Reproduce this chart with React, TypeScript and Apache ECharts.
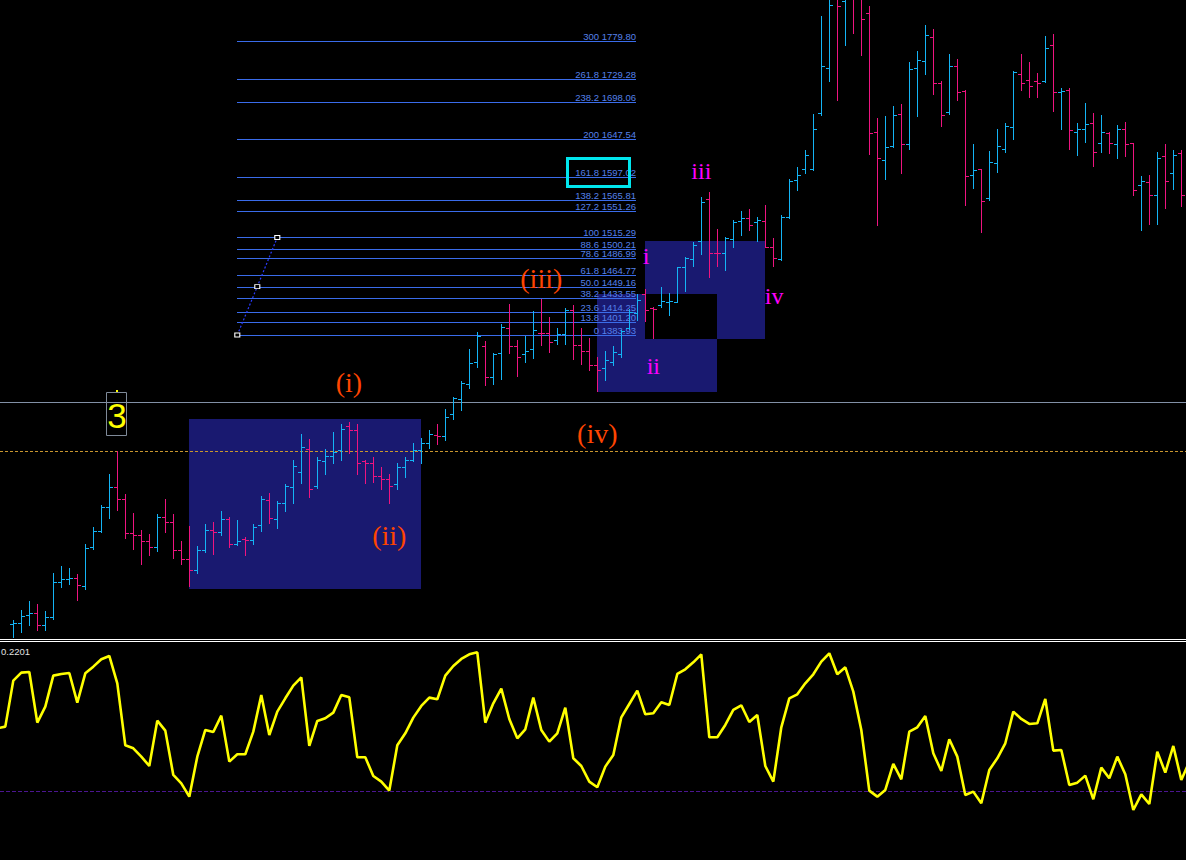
import React, { useEffect, useRef } from "react";
import * as echarts from "echarts";

// ---------- price bars (bar index 0..146) ----------
const OPEN = [
  995, 996, 1007, 1009, 993, 1004, 1051, 1055, 1056, 1046,
  1099, 1120, 1152, 1179, 1163, 1117, 1114, 1106, 1098, 1139,
  1132, 1094, 1082, 1067, 1095, 1121, 1119, 1136, 1103, 1109,
  1108, 1128, 1162, 1136, 1157, 1179, 1200, 1231, 1180, 1214,
  1221, 1229, 1261, 1256, 1214, 1212, 1194, 1190, 1183, 1206,
  1215, 1229, 1239, 1249, 1248, 1278, 1298, 1318, 1348, 1369,
  1328, 1360, 1393, 1369, 1358, 1365, 1387, 1386, 1377, 1385,
  1418, 1370, 1362, 1344, 1339, 1347, 1358, 1393, 1413, 1439,
  1420, 1424, 1428, 1429, 1475, 1486, 1511, 1567, 1495, 1494,
  1513, 1537, 1542, 1536, 1538, 1502, 1486, 1543, 1593, 1608,
  1607, 1683, 1743, 1842, 1834, 1849, 1839, 1817, 1657, 1619,
  1638, 1681, 1641, 1743, 1753, 1786, 1723, 1684, 1746, 1713,
  1599, 1607, 1569, 1615, 1634, 1664, 1735, 1727, 1726, 1726,
  1774, 1711, 1714, 1658, 1662, 1669, 1642, 1656, 1641, 1661,
  1642, 1586, 1590, 1573, 1625, 1602, 1629,
];
const HIGH = [
  1000, 1014, 1026, 1022, 1012, 1064, 1073, 1070, 1062, 1102,
  1125, 1155, 1197, 1228, 1170, 1144, 1121, 1116, 1143, 1163,
  1143, 1106, 1127, 1100, 1129, 1132, 1147, 1139, 1135, 1112,
  1129, 1167, 1171, 1160, 1183, 1216, 1251, 1244, 1220, 1230,
  1253, 1264, 1267, 1264, 1216, 1220, 1206, 1197, 1211, 1220,
  1238, 1245, 1256, 1264, 1284, 1300, 1322, 1365, 1388, 1376,
  1360, 1399, 1426, 1377, 1383, 1416, 1432, 1408, 1393, 1420,
  1424, 1393, 1380, 1354, 1362, 1369, 1390, 1419, 1439, 1446,
  1421, 1449, 1441, 1476, 1489, 1509, 1570, 1577, 1527, 1516,
  1539, 1551, 1554, 1543, 1559, 1514, 1545, 1594, 1610, 1633,
  1682, 1814, 1849, 1855, 1862, 1862, 1849, 1827, 1676, 1679,
  1692, 1695, 1752, 1766, 1801, 1796, 1726, 1762, 1756, 1714,
  1641, 1608, 1632, 1661, 1670, 1740, 1762, 1752, 1737, 1787,
  1789, 1717, 1717, 1670, 1697, 1683, 1680, 1658, 1667, 1671,
  1643, 1598, 1600, 1630, 1641, 1633, 1633,
];
const LOW = [
  966, 984, 993, 987, 987, 1001, 1044, 1049, 1027, 1042,
  1096, 1119, 1138, 1148, 1110, 1096, 1075, 1087, 1093, 1119,
  1084, 1076, 1046, 1063, 1092, 1089, 1114, 1099, 1101, 1087,
  1103, 1120, 1131, 1124, 1147, 1158, 1185, 1166, 1178, 1197,
  1211, 1216, 1225, 1197, 1185, 1186, 1176, 1158, 1176, 1192,
  1214, 1211, 1232, 1237, 1242, 1271, 1283, 1313, 1341, 1316,
  1318, 1325, 1360, 1329, 1348, 1353, 1371, 1361, 1372, 1372,
  1352, 1345, 1337, 1309, 1323, 1344, 1354, 1392, 1404, 1403,
  1380, 1421, 1411, 1428, 1443, 1477, 1493, 1462, 1477, 1472,
  1503, 1519, 1526, 1511, 1502, 1477, 1485, 1541, 1579, 1602,
  1606, 1680, 1726, 1701, 1775, 1791, 1761, 1628, 1532, 1594,
  1637, 1602, 1635, 1679, 1735, 1709, 1666, 1682, 1701, 1559,
  1582, 1522, 1566, 1604, 1631, 1648, 1714, 1704, 1704, 1725,
  1686, 1662, 1634, 1627, 1644, 1612, 1631, 1629, 1623, 1625,
  1572, 1526, 1533, 1533, 1555, 1581, 1558,
];
const CLOSE = [
  996, 1006, 1010, 993, 1004, 1051, 1055, 1056, 1047, 1097,
  1120, 1152, 1179, 1163, 1117, 1114, 1106, 1099, 1139, 1132,
  1094, 1082, 1067, 1095, 1121, 1118, 1136, 1103, 1107, 1108,
  1125, 1163, 1138, 1158, 1180, 1208, 1233, 1177, 1215, 1221,
  1227, 1257, 1256, 1212, 1212, 1194, 1190, 1181, 1206, 1216,
  1229, 1238, 1251, 1248, 1274, 1299, 1319, 1346, 1382, 1328,
  1359, 1395, 1369, 1354, 1363, 1391, 1386, 1375, 1385, 1418,
  1370, 1362, 1344, 1337, 1350, 1361, 1389, 1415, 1431, 1417,
  1419, 1430, 1430, 1475, 1487, 1505, 1563, 1495, 1494, 1514,
  1536, 1541, 1532, 1539, 1502, 1487, 1543, 1592, 1600, 1626,
  1662, 1746, 1828, 1827, 1846, 1842, 1810, 1656, 1623, 1637,
  1680, 1641, 1742, 1754, 1788, 1723, 1680, 1746, 1711, 1598,
  1606, 1564, 1617, 1638, 1665, 1738, 1724, 1720, 1723, 1771,
  1711, 1712, 1660, 1661, 1668, 1630, 1657, 1642, 1662, 1641,
  1579, 1592, 1572, 1623, 1592, 1626, 1572,
];

// ---------- oscillator (bar index -2..147) ----------
const OSC_FIRST_BAR = -2;
const OSC = [
  0.0945, 0.097,
  0.166, 0.178, 0.179, 0.103, 0.127, 0.1735, 0.176, 0.1775, 0.133, 0.177,
  0.187, 0.198, 0.203, 0.162, 0.069, 0.0645, 0.052, 0.038, 0.106, 0.091,
  0.0245, 0.012, -0.008, 0.052, 0.092, 0.089, 0.1135, 0.0445, 0.0555, 0.0555,
  0.0895, 0.1445, 0.0845, 0.1195, 0.1395, 0.1585, 0.171, 0.068, 0.1055, 0.1095,
  0.118, 0.1445, 0.141, 0.051, 0.051, 0.023, 0.0145, 0.001, 0.069, 0.087,
  0.1105, 0.128, 0.1405, 0.138, 0.1735, 0.188, 0.1985, 0.2055, 0.2085, 0.103,
  0.132, 0.154, 0.1085, 0.0795, 0.093, 0.1405, 0.092, 0.0745, 0.087, 0.1255,
  0.0495, 0.038, 0.0145, 0.006, 0.037, 0.0545, 0.111, 0.131, 0.151, 0.1155,
  0.117, 0.1335, 0.1295, 0.176, 0.183, 0.1935, 0.2055, 0.081, 0.081, 0.0995,
  0.122, 0.129, 0.104, 0.1145, 0.038, 0.0145, 0.096, 0.1395, 0.1455, 0.162,
  0.1755, 0.1945, 0.207, 0.1755, 0.186, 0.1495, 0.092, 0.001, -0.008, 0.002,
  0.041, 0.018, 0.0895, 0.096, 0.113, 0.057, 0.0305, 0.078, 0.052, -0.0055,
  -0.0005, -0.018, 0.032, 0.0495, 0.072, 0.1195, 0.1085, 0.101, 0.102, 0.1385,
  0.061, 0.062, 0.0095, 0.013, 0.0235, -0.012, 0.0355, 0.0195, 0.052, 0.0255,
  -0.028, -0.0045, -0.019, 0.0595, 0.028, 0.068, 0.017, 0.0445,
];
const OSC_LABEL = "0.2201";
const OSC_LEVEL = 0;

// ---------- Fibonacci expansion ----------
const FIB_LEVELS = ["0", "13.8", "23.6", "38.2", "50.0", "61.8", "78.6", "88.6", "100", "127.2", "138.2", "161.8", "200", "238.2", "261.8", "300"];
const FIB_PRICES = [1383.93, 1401.2, 1414.25, 1433.55, 1449.16, 1464.77, 1486.99, 1500.21, 1515.29, 1551.26, 1565.81, 1597.02, 1647.54, 1698.06, 1729.28, 1779.8];
const FIB_FROM_BAR = 28;
const FIB_TO_BAR = 33;
const FIB_END_BAR = 77.85;

// ---------- horizontal levels ----------
const LEVEL_PRICES = [1293.3, 1227.7];

// ---------- wave boxes ----------
const BOX_FROM_BAR = [22, 73, 79];
const BOX_TO_BAR = [51, 88, 94];
const BOX_HIGH = [1270.8, 1439.2, 1510.6];
const BOX_LOW = [1041.8, 1307.2, 1378.6];

// target box around 161.8
const TARGET_FROM_BAR = 69.24;
const TARGET_TO_BAR = 77.03;
const TARGET_HIGH = 1623.0;
const TARGET_LOW = 1585.7;

// ---------- wave labels ----------
const WAVE_LABELS = ["(i)", "(ii)", "(iii)", "(iv)"];
const WAVE_BAR = [41.96, 47.0, 66.0, 73.0];
const WAVE_PRICE = [1319.3, 1113.2, 1460.7, 1251.9];
const SUB_LABELS = ["i", "ii", "iii", "iv"];
const SUB_BAR = [79.1, 80.0, 86.0, 95.1];
const SUB_PRICE = [1490.4, 1342.2, 1604.9, 1436.5];
const DEGREE_LABELS = ["3"];
const DEGREE_BAR = [13];
const DEGREE_PRICE = [1277.5];

const PRICE_MIN = 975.8;
const PRICE_MAX = 1835.17;
const BAR_MIN = -1.6625;
const BAR_MAX = 146.5875;

const UP = "#14b4f5";
const DOWN = "#ee1480";

export default function App() {
  const ref = useRef<HTMLDivElement>(null);
  useEffect(() => {
    document.body.style.margin = "0";
    document.body.style.background = "#000";
    const chart = echarts.init(ref.current!, undefined, { renderer: "svg" });

    const bars = OPEN.map((o, i) => [i, o, HIGH[i], LOW[i], CLOSE[i]]);
    const osc = OSC.map((v, i) => [i + OSC_FIRST_BAR, v]);
    const boxes = BOX_FROM_BAR.map((b, i) => [b, BOX_HIGH[i], BOX_TO_BAR[i], BOX_LOW[i], 0]);
    // overlap of boxes 2 and 3 (rendered black, XOR-like)
    const ox1 = Math.max(BOX_FROM_BAR[1], BOX_FROM_BAR[2]);
    const ox2 = Math.min(BOX_TO_BAR[1], BOX_TO_BAR[2]);
    const oy1 = Math.min(BOX_HIGH[1], BOX_HIGH[2]);
    const oy2 = Math.max(BOX_LOW[1], BOX_LOW[2]);
    boxes.push([ox1, oy1, ox2, oy2, 1]);

    const fib = FIB_PRICES.map((p, i) => [FIB_FROM_BAR, p, FIB_END_BAR, i]);
    const fibMid = (FIB_FROM_BAR + FIB_TO_BAR) / 2;

    const rnd = (v: number) => Math.round(v) + 0.5;
    const solid = (color: string) => ({ fill: color, stroke: "none", lineWidth: 0, opacity: 1 });

    const option: any = {
      animation: false,
      backgroundColor: "#000",
      grid: [
        { left: 0, right: 0, top: 0, height: 638 },
        { left: 0, right: 0, top: 642, height: 218 },
      ],
      xAxis: [
        { gridIndex: 0, type: "value", min: BAR_MIN, max: BAR_MAX, show: false },
        { gridIndex: 1, type: "value", min: BAR_MIN, max: BAR_MAX, show: false },
      ],
      yAxis: [
        { gridIndex: 0, type: "value", min: PRICE_MIN, max: PRICE_MAX, show: false },
        { gridIndex: 1, type: "value", min: -0.10305, max: 0.22395, show: false },
      ],
      series: [
        {
          type: "custom",
          name: "boxes",
          z: 1,
          clip: true,
          silent: true,
          encode: { x: [0, 2], y: [1, 3] },
          data: boxes,
          renderItem: (params: any, api: any) => {
            const a = api.coord([api.value(0), api.value(1)]);
            const b = api.coord([api.value(2), api.value(3)]);
            const x = Math.round(a[0]);
            const y = Math.round(a[1]);
            return {
              type: "rect",
              shape: { x, y, width: Math.round(b[0]) - x, height: Math.round(b[1]) - y },
              style: solid(api.value(4) === 1 ? "#000000" : "#191970"),
            };
          },
        },
        {
          type: "custom",
          name: "levels",
          z: 2,
          silent: true,
          encode: { y: 0 },
          data: LEVEL_PRICES.map((p, i) => [p, i]),
          renderItem: (params: any, api: any) => {
            const cs = params.coordSys;
            const p = api.coord([0, api.value(0)]);
            const y = rnd(p[1]);
            const dashed = api.value(1) === 1;
            return {
              type: "line",
              shape: { x1: cs.x, y1: y, x2: cs.x + cs.width, y2: y },
              style: dashed
                ? { stroke: "#c8962e", lineWidth: 1, lineDash: [3, 2] }
                : { stroke: "#8290a6", lineWidth: 1 },
            };
          },
        },
        {
          type: "custom",
          name: "fib",
          z: 3,
          silent: true,
          clip: true,
          encode: { x: [0, 2], y: 1 },
          data: fib,
          renderItem: (params: any, api: any) => {
            const a = api.coord([api.value(0), api.value(1)]);
            const b = api.coord([api.value(2), api.value(1)]);
            const idx = api.value(3);
            const y = Math.round(a[1]);
            const label = FIB_LEVELS[idx] + " " + FIB_PRICES[idx].toFixed(2);
            return {
              type: "group",
              children: [
                { type: "rect", shape: { x: Math.round(a[0]), y, width: Math.round(b[0]) - Math.round(a[0]), height: 1 }, style: solid("#3a6cea") },
                {
                  type: "text",
                  x: Math.round(b[0]),
                  y: y,
                  style: {
                    text: label,
                    fill: "#5580ea",
                    font: '9.5px "Liberation Sans"',
                    textAlign: "right",
                    textVerticalAlign: "bottom",
                    align: "right",
                    verticalAlign: "bottom",
                  },
                },
              ],
            };
          },
        },
        {
          type: "line",
          name: "fibAnchor",
          z: 4,
          silent: true,
          xAxisIndex: 0,
          yAxisIndex: 0,
          data: [
            [FIB_FROM_BAR, FIB_PRICES[0]],
            [fibMid, FIB_PRICES[4]],
            [FIB_TO_BAR, FIB_PRICES[8]],
          ],
          symbol: "rect",
          symbolSize: [5, 4],
          itemStyle: { color: "#000", borderColor: "#fff", borderWidth: 1 },
          lineStyle: { color: "#2a3cff", width: 1.2, type: [2, 2] },
        },
        {
          type: "custom",
          name: "ohlc",
          z: 5,
          clip: true,
          silent: true,
          encode: { x: 0, y: [1, 2, 3, 4] },
          data: bars,
          renderItem: (params: any, api: any) => {
            const k = api.value(0);
            const o = api.value(1);
            const h = api.value(2);
            const l = api.value(3);
            const c = api.value(4);
            const pH = api.coord([k, h]);
            const pL = api.coord([k, l]);
            const pO = api.coord([k, o]);
            const pC = api.coord([k, c]);
            const x = Math.round(pH[0]);
            const color = c > o ? UP : DOWN;
            const yh = Math.round(pH[1]);
            const yl = Math.round(pL[1]);
            const yo = Math.round(pO[1]);
            const yc = Math.round(pC[1]);
            return {
              type: "group",
              children: [
                { type: "rect", shape: { x, y: yh, width: 1, height: Math.max(1, yl - yh + 1) }, style: solid(color) },
                { type: "rect", shape: { x: x - 3, y: yo, width: 3, height: 1 }, style: solid(color) },
                { type: "rect", shape: { x: x + 1, y: yc, width: 3, height: 1 }, style: solid(color) },
              ],
            };
          },
        },
        {
          type: "custom",
          name: "waves",
          z: 6,
          silent: true,
          encode: { x: 0, y: 1 },
          data: WAVE_BAR.map((b, i) => [b, WAVE_PRICE[i]]),
          renderItem: (params: any, api: any) => {
            const p = api.coord([api.value(0), api.value(1)]);
            return {
              type: "text",
              x: p[0],
              y: p[1],
              style: {
                text: WAVE_LABELS[params.dataIndex],
                fill: "#ff4500",
                font: '28px "Liberation Serif"',
                textAlign: "center",
                textVerticalAlign: "middle",
                align: "center",
                verticalAlign: "middle",
              },
            };
          },
        },
        {
          type: "custom",
          name: "subwaves",
          z: 6,
          silent: true,
          encode: { x: 0, y: 1 },
          data: SUB_BAR.map((b, i) => [b, SUB_PRICE[i]]),
          renderItem: (params: any, api: any) => {
            const p = api.coord([api.value(0), api.value(1)]);
            return {
              type: "text",
              x: p[0],
              y: p[1],
              style: {
                text: SUB_LABELS[params.dataIndex],
                fill: "#ff00ff",
                font: '24px "Liberation Serif"',
                textAlign: "center",
                textVerticalAlign: "middle",
                align: "center",
                verticalAlign: "middle",
              },
            };
          },
        },
        {
          type: "custom",
          name: "degree",
          z: 6,
          silent: true,
          encode: { x: 0, y: 1 },
          data: DEGREE_BAR.map((b, i) => [b, DEGREE_PRICE[i]]),
          renderItem: (params: any, api: any) => {
            const p = api.coord([api.value(0), api.value(1)]);
            const cx = Math.round(p[0]);
            const cy = Math.round(p[1]);
            return {
              type: "group",
              children: [
                { type: "rect", shape: { x: cx - 10.5, y: cy - 21.5, width: 20, height: 43 }, style: { fill: "none", stroke: "#7f8a99", lineWidth: 1 } },
                { type: "rect", shape: { x: cx - 1, y: cy - 24, width: 2, height: 2 }, style: solid("#ffff00") },
                {
                  type: "text",
                  x: cx,
                  y: cy + 1,
                  style: {
                    text: DEGREE_LABELS[params.dataIndex],
                    fill: "#ffff00",
                    font: '35px "Liberation Sans"',
                    textAlign: "center",
                    textVerticalAlign: "middle",
                    align: "center",
                    verticalAlign: "middle",
                  },
                },
              ],
            };
          },
        },
        {
          type: "custom",
          name: "target",
          z: 7,
          silent: true,
          encode: { x: [0, 2], y: [1, 3] },
          data: [[TARGET_FROM_BAR, TARGET_HIGH, TARGET_TO_BAR, TARGET_LOW]],
          renderItem: (params: any, api: any) => {
            const a = api.coord([api.value(0), api.value(1)]);
            const b = api.coord([api.value(2), api.value(3)]);
            return {
              type: "rect",
              shape: { x: Math.round(a[0]) + 0.5, y: Math.round(a[1]) + 0.5, width: Math.round(b[0] - a[0]), height: Math.round(b[1] - a[1]) },
              style: { fill: "none", stroke: "#00e6ee", lineWidth: 3 },
            };
          },
        },
        {
          type: "line",
          name: "oscillator",
          xAxisIndex: 1,
          yAxisIndex: 1,
          z: 5,
          silent: true,
          data: osc,
          symbol: "none",
          lineStyle: { color: "#ffff00", width: 2.6 },
          markLine: {
            silent: true,
            symbol: "none",
            label: { show: false },
            lineStyle: { color: "#4b1590", type: [4, 2], width: 1 },
            data: [{ yAxis: OSC_LEVEL }],
          },
        },
      ],
      graphic: [
        { type: "rect", shape: { x: 0, y: 639, width: 1186, height: 1 }, style: { fill: "#ffffff" }, silent: true },
        { type: "rect", shape: { x: 0, y: 641, width: 1186, height: 1 }, style: { fill: "#ffffff" }, silent: true },
        {
          type: "text",
          x: 1,
          y: 651,
          silent: true,
          style: {
            text: OSC_LABEL,
            fill: "#e0e0e0",
            font: '9.5px "Liberation Sans"',
            textAlign: "left",
            textVerticalAlign: "middle",
            align: "left",
            verticalAlign: "middle",
          },
        },
      ],
    };
    chart.setOption(option);
    return () => chart.dispose();
  }, []);
  return <div ref={ref} style={{ position: "fixed", left: 0, top: 0, width: 1186, height: 860 }} />;
}
